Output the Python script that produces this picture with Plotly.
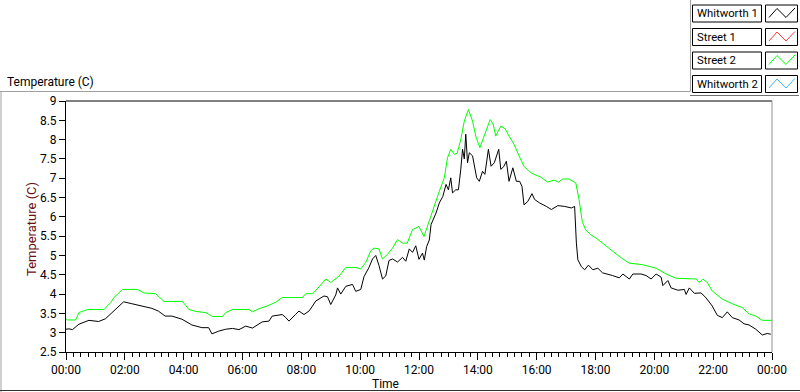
import plotly.graph_objects as go

# ---------------- data ----------------
whitworth1_hours = [0.00, 0.10, 0.22, 0.44, 0.78, 1.11, 1.34, 1.56, 1.79, 1.96, 2.24, 2.58, 2.92, 3.14, 3.37,
                    3.60, 3.94, 4.28, 4.62, 4.85, 4.96, 5.19, 5.43, 5.66, 5.88, 6.11, 6.34, 6.67, 6.90, 7.01,
                    7.35, 7.46, 7.58, 7.80, 7.92, 8.09, 8.26, 8.38, 8.49, 8.77, 8.89, 9.00, 9.17, 9.23, 9.34,
                    9.51, 9.74, 9.85, 10.02, 10.13, 10.30, 10.42, 10.53, 10.64, 10.76, 10.87, 10.98, 11.10,
                    11.27, 11.44, 11.55, 11.67, 11.78, 11.89, 12.00, 12.12, 12.18, 12.26, 12.35, 12.41, 12.58,
                    12.69, 12.81, 12.92, 13.00, 13.08, 13.14, 13.25, 13.34, 13.42, 13.48, 13.54, 13.59, 13.65,
                    13.71, 13.82, 13.88, 13.96, 14.05, 14.16, 14.24, 14.36, 14.45, 14.56, 14.71, 14.78, 14.88,
                    14.97, 15.06, 15.19, 15.31, 15.42, 15.50, 15.57, 15.70, 15.84, 15.93, 16.10, 16.33, 16.50,
                    16.72, 16.95, 17.18, 17.29, 17.35, 17.40, 17.52, 17.63, 17.76, 17.91, 18.08, 18.24, 18.58,
                    18.81, 18.93, 19.15, 19.27, 19.55, 19.72, 19.89, 20.06, 20.23, 20.29, 20.46, 20.57, 20.80,
                    21.02, 21.08, 21.19, 21.36, 21.59, 21.76, 21.97, 22.14, 22.31, 22.48, 22.65, 22.88, 23.05,
                    23.22, 23.45, 23.67, 23.84, 23.96]
whitworth1_temp = [3.09, 3.10, 3.08, 3.22, 3.32, 3.29, 3.36, 3.52, 3.69, 3.80, 3.75, 3.69, 3.63, 3.56, 3.43,
                   3.43, 3.35, 3.20, 3.13, 3.13, 2.97, 3.04, 3.09, 3.11, 3.08, 3.17, 3.12, 3.28, 3.30, 3.43,
                   3.47, 3.40, 3.30, 3.47, 3.56, 3.47, 3.56, 3.69, 3.82, 3.95, 3.93, 3.73, 3.98, 4.16, 4.00,
                   4.20, 4.25, 4.07, 4.12, 4.45, 4.69, 4.91, 5.00, 4.74, 4.39, 4.47, 4.87, 4.91,
                   4.83, 4.95, 4.85, 5.17, 5.08, 5.25, 4.90, 5.06, 4.88, 5.23, 5.40, 5.80, 6.10,
                   6.36, 6.53, 6.84, 6.70, 7.01, 6.62, 6.70, 6.70, 7.23, 7.75, 7.50, 8.14, 7.40,
                   7.66, 7.58, 7.31, 7.01, 6.92, 7.18, 7.10, 7.75, 7.31, 7.40, 7.75, 7.23, 7.30,
                   7.44, 6.92, 7.27, 6.92, 6.92, 6.79, 6.31, 6.40, 6.60, 6.45, 6.36, 6.27, 6.19,
                   6.29, 6.27, 6.23, 6.27, 5.32, 4.89, 4.71, 4.63, 4.75, 4.63, 4.67, 4.55, 4.48,
                   4.42, 4.52, 4.39, 4.52, 4.52, 4.48, 4.39, 4.52, 4.44, 4.22, 4.35, 4.16, 4.10,
                   4.12, 3.99, 4.16, 4.02, 4.03, 3.90, 3.69, 3.45, 3.39, 3.54, 3.39, 3.33, 3.23,
                   3.20, 3.09, 2.94, 2.98, 2.96]

street2_hours = [0.00, 0.05, 0.33, 0.44, 0.73, 1.29, 1.52, 1.63, 1.92, 2.43, 2.65, 3.05, 3.33, 3.96, 4.18,
                 4.41, 4.75, 4.98, 5.32, 5.43, 5.66, 6.22, 6.34, 6.56, 6.90, 7.13, 7.35, 8.03, 8.15, 8.38,
                 8.61, 8.83, 9.00, 9.29, 9.51, 9.85, 10.02, 10.19, 10.36, 10.47, 10.64, 10.76, 10.93, 11.10,
                 11.27, 11.44, 11.60, 11.78, 12.00, 12.17, 12.35, 12.52, 12.69, 12.86, 12.97, 13.08, 13.20,
                 13.30, 13.42, 13.54, 13.68, 13.82, 13.93, 14.07, 14.22, 14.42, 14.52, 14.61, 14.78, 14.93,
                 15.06, 15.23, 15.40, 15.57, 15.74, 15.91, 16.14, 16.37, 16.59, 16.75, 16.88, 17.10, 17.33,
                 17.44, 17.55, 17.66, 17.83, 18.02, 18.24, 18.47, 18.70, 18.93, 19.15, 19.61, 20.06, 20.40,
                 20.74, 21.42, 21.53, 21.65, 21.80, 21.97, 22.31, 22.65, 22.99, 23.22, 23.45, 23.67, 24.00]
street2_temp = [3.36, 3.33, 3.33, 3.52, 3.60, 3.60, 3.78, 3.91, 4.12, 4.12, 4.03, 4.01, 3.81, 3.81, 3.60,
                3.55, 3.52, 3.42, 3.42, 3.52, 3.60, 3.60, 3.54, 3.62, 3.71, 3.79, 3.91, 3.91, 4.01, 4.01,
                4.19, 4.39, 4.30, 4.47, 4.69, 4.69, 4.65, 4.82, 5.12, 5.19, 5.17, 4.91, 5.03, 5.19,
                5.41, 5.32, 5.32, 5.67, 5.75, 5.49, 5.90, 6.31, 6.66, 7.01, 7.53, 7.75, 7.62,
                7.65, 8.00, 8.48, 8.78, 8.48, 8.09, 7.79, 8.09, 8.52, 8.40, 8.09, 8.35, 8.28,
                8.09, 7.88, 7.58, 7.31, 7.18, 7.10, 7.03, 6.90, 6.95, 6.90, 6.98, 6.98, 6.88,
                6.45, 5.88, 5.67, 5.54, 5.45, 5.32, 5.17, 5.04, 4.91, 4.80, 4.76, 4.67, 4.52,
                4.41, 4.39, 4.30, 4.39, 4.30, 4.08, 3.87, 3.75, 3.65, 3.49, 3.43, 3.32, 3.32]

street1_hours, street1_temp = [], []
whitworth2_hours, whitworth2_temp = [], []

series_names = ["Whitworth 1", "Street 1", "Street 2", "Whitworth 2"]
series_colors = ["#000000", "#ff3b3b", "#00ff00", "#3cb8ff"]

x_tick_vals = [0, 2, 4, 6, 8, 10, 12, 14, 16, 18, 20, 22, 24]
x_tick_text = ["00:00", "02:00", "04:00", "06:00", "08:00", "10:00", "12:00",
               "14:00", "16:00", "18:00", "20:00", "22:00", "00:00"]
y_tick_vals = [2.5, 3, 3.5, 4, 4.5, 5, 5.5, 6, 6.5, 7, 7.5, 8, 8.5, 9]
y_tick_text = ["2.5", "3", "3.5", "4", "4.5", "5", "5.5", "6", "6.5", "7", "7.5", "8", "8.5", "9"]

# ---------------- figure ----------------
W, H = 800, 392
L, R, T, B = 66, 772, 101, 352
FONT = "Roboto"


def px(x):
    return (x - L) / (R - L)


def py(y):
    return (B - y) / (B - T)


fig = go.Figure()
all_series = [(whitworth1_hours, whitworth1_temp), (street1_hours, street1_temp),
              (street2_hours, street2_temp), (whitworth2_hours, whitworth2_temp)]
for idx in [1, 3, 2, 0]:
    xs, ys = all_series[idx]
    fig.add_trace(go.Scatter(x=xs, y=ys, mode="lines", name=series_names[idx],
                             line=dict(color=series_colors[idx], width=1),
                             showlegend=False, hoverinfo="skip"))

shapes = []
ann = []


def line(x0, y0, x1, y1, color, width=1):
    shapes.append(dict(type="line", xref="paper", yref="paper", x0=px(x0), y0=py(y0),
                       x1=px(x1), y1=py(y1), line=dict(color=color, width=width), layer="above"))


# outer frame
line(0, 91.5, 690, 91.5, "#a0a0a0")
line(1, 91.5, 1, 392, "#a0a0a0")
line(0, 390.5, 800, 390.5, "#303030")
line(690.5, 0, 690.5, 91.5, "#a0a0a0")
line(690, 95.5, 799, 95.5, "#707070")
# plot area top/right
line(L, T, R, T, "#000000")
line(R, T, R, B, "#909090")

# legend boxes
row_tops = [5, 28.5, 52, 75.5]
for i, name in enumerate(series_names):
    t = row_tops[i]
    b = t + 17
    shapes.append(dict(type="rect", xref="paper", yref="paper", x0=px(692.5), x1=px(761.5),
                       y0=py(b), y1=py(t), line=dict(color="#000000", width=1),
                       fillcolor="white", layer="above"))
    shapes.append(dict(type="rect", xref="paper", yref="paper", x0=px(765.5), x1=px(797.5),
                       y0=py(b), y1=py(t), line=dict(color="#000000", width=1),
                       fillcolor="white", layer="above"))
    pts = [(769, b - 4.5), (777, t + 3.5), (786, b - 4.5), (795, t + 3)]
    path = "M " + " L ".join(f"{px(a):.5f},{py(c):.5f}" for a, c in pts)
    shapes.append(dict(type="path", xref="paper", yref="paper", path=path,
                       line=dict(color=series_colors[i], width=1), layer="above"))
    ann.append(dict(text=name, xref="paper", yref="paper", x=px(695), y=py((t + b) / 2),
                    xanchor="left", yanchor="middle", showarrow=False,
                    font=dict(family=FONT, size=11.3, color="#000000")))

# plot name label top-left
ann.append(dict(text="Temperature (C)", xref="paper", yref="paper", x=px(5), y=py(82),
                xanchor="left", yanchor="middle", showarrow=False,
                font=dict(family=FONT, size=12, color="#000000")))
# x axis title
ann.append(dict(text="Time", xref="paper", yref="paper", x=px(385), y=py(383.5),
                xanchor="center", yanchor="middle", showarrow=False,
                font=dict(family=FONT, size=12, color="#000000")))
# y axis title
ann.append(dict(text="Temperature (C)", xref="paper", yref="paper", x=px(31), y=py(229),
                xanchor="center", yanchor="middle", showarrow=False, textangle=-90,
                font=dict(family=FONT, size=13, color="#6a1010")))

fig.update_layout(
    width=W, height=H,
    margin=dict(l=L, r=W - R, t=T, b=H - B, pad=0),
    paper_bgcolor="white", plot_bgcolor="white",
    showlegend=False,
    shapes=shapes, annotations=ann,
    xaxis=dict(range=[0, 24], tickvals=x_tick_vals, ticktext=x_tick_text,
               showgrid=False, zeroline=False, showline=True, linecolor="#000000", linewidth=1,
               ticks="outside", ticklen=7, tickcolor="#000000", tickwidth=1,
               tickfont=dict(family=FONT, size=12, color="#000000"),
               minor=dict(dtick=0.25, tick0=0, ticks="outside", ticklen=4, tickcolor="#000000",
                          tickwidth=1, showgrid=False),
               fixedrange=True),
    yaxis=dict(range=[2.5, 9], tickvals=y_tick_vals, ticktext=y_tick_text,
               showgrid=False, zeroline=False, showline=True, linecolor="#000000", linewidth=1,
               ticks="outside", ticklen=6, tickcolor="#000000", tickwidth=1,
               tickfont=dict(family=FONT, size=12, color="#000000"),
               fixedrange=True),
)

fig.write_html("out.html", config={"displayModeBar": False},
               post_script="document.body.style.margin='0';document.body.style.overflow='hidden';")
